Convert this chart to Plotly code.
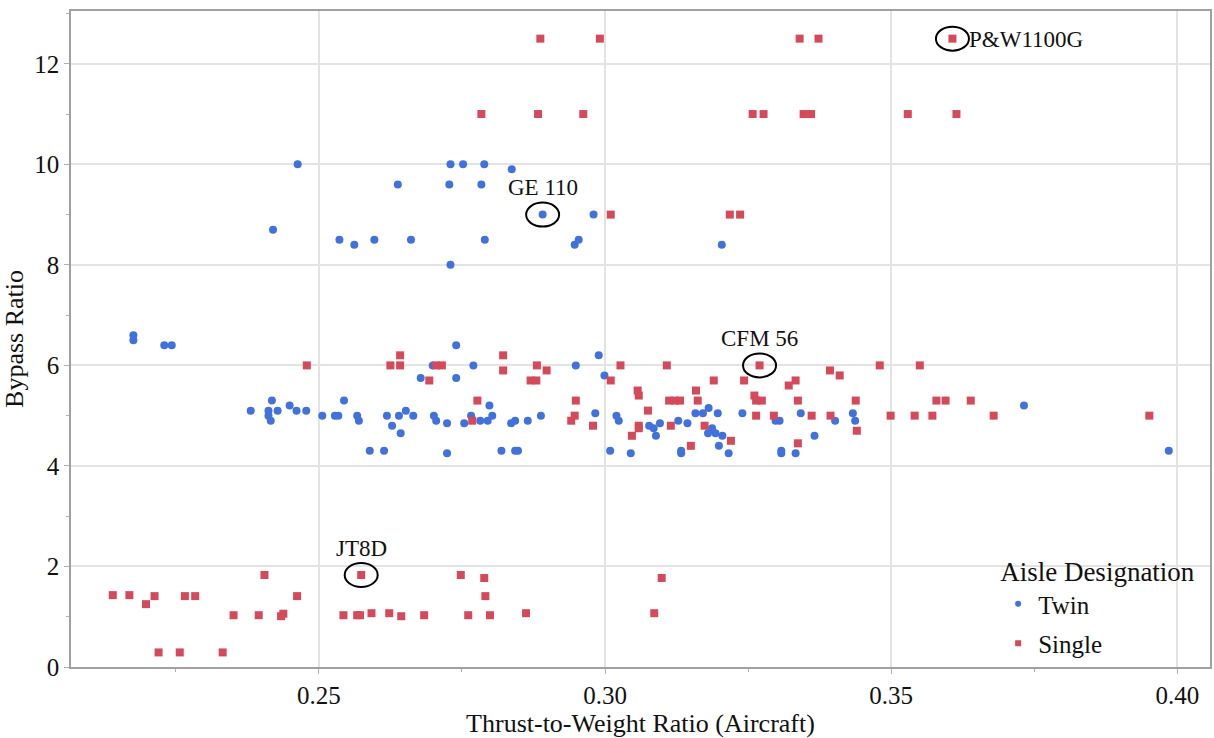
import plotly.graph_objects as go

# ---- data ----
twin_x = [0.2420, 0.2463, 0.2536, 0.2562, 0.2597, 0.2638, 0.2661, 0.2728, 0.2730,
          0.2752, 0.2789, 0.2837, 0.2784, 0.2891, 0.2980, 0.2790, 0.2947, 0.2954, 0.3204, 0.2730,
          0.2176, 0.2176, 0.2230, 0.2243, 0.2381, 0.2412, 0.2418, 0.2412, 0.2416, 0.2428,
          0.2449, 0.2461, 0.2478, 0.2506, 0.2528, 0.2534, 0.2544, 0.2567, 0.2570, 0.2589,
          0.2614, 0.2619, 0.2628, 0.2640, 0.2643, 0.2652, 0.2665, 0.2678, 0.2699, 0.2701,
          0.2705, 0.2724, 0.2724, 0.2740, 0.2740,
          0.2770, 0.2766, 0.2754, 0.2782, 0.2795, 0.2798, 0.2803, 0.2819, 0.2836, 0.2843,
          0.2843, 0.2848, 0.2865, 0.2888, 0.2949, 0.2983, 0.2989, 0.2999, 0.3009, 0.3020,
          0.3024, 0.3045, 0.3077, 0.3085, 0.3089, 0.3096, 0.3128, 0.3133, 0.3133, 0.3144,
          0.3158, 0.3171, 0.3181, 0.3197, 0.3187, 0.3180, 0.3193, 0.3205, 0.3199, 0.3216,
          0.3240, 0.3298, 0.3305, 0.3308, 0.3308, 0.3333, 0.3342, 0.3366, 0.3402,
          0.3433, 0.3437, 0.3732, 0.3985]
twin_y = [8.7, 10.0, 8.5, 8.4, 8.5, 9.6, 8.5, 9.6, 10.0,
          10.0, 10.0, 9.9, 9.6, 9.0, 9.0, 8.5, 8.4, 8.5, 8.4, 8.0,
          6.6, 6.5, 6.4, 6.4, 5.1, 5.1, 5.3, 5.0, 4.9, 5.1,
          5.2, 5.1, 5.1, 5.0, 5.0, 5.0, 5.3, 5.0, 4.9, 4.3,
          4.3, 5.0, 4.8, 5.0, 4.65, 5.1, 5.0, 5.75, 6.0, 5.0,
          4.9, 4.85, 4.25, 6.4, 5.75,
          6.0, 5.0, 4.85, 4.9, 4.9, 5.2, 5.0, 4.3, 4.85, 4.9,
          4.3, 4.3, 4.9, 5.0, 6.0, 5.05, 6.2, 5.8, 4.3, 5.0,
          4.9, 4.25, 4.8, 4.75, 4.6, 4.85, 4.9, 4.3, 4.25, 4.85,
          5.05, 5.05, 5.15, 5.05, 4.75, 4.65, 4.65, 4.6, 4.4, 4.25,
          5.05, 4.9, 4.9, 4.3, 4.25, 4.25, 5.05, 4.6, 4.9,
          5.05, 4.9, 5.2, 4.3]

single_x = [0.2887, 0.2991, 0.3340, 0.3373, 0.3607,
            0.2784, 0.2883, 0.2962, 0.3258, 0.3277, 0.3347, 0.3360, 0.3529, 0.3614,
            0.3010, 0.3218, 0.3236,
            0.2479, 0.2625, 0.2642, 0.2642, 0.2693, 0.2705, 0.2715,
            0.2777, 0.2768, 0.2822, 0.2822, 0.2881, 0.2898, 0.2870, 0.2880, 0.2949, 0.2947,
            0.2941, 0.2979, 0.3010, 0.3027, 0.3057, 0.3059, 0.3075, 0.3059, 0.3059, 0.3047,
            0.3108, 0.3112, 0.3122, 0.3131, 0.3115, 0.3159, 0.3162, 0.3150, 0.3174, 0.3190,
            0.3220, 0.3243, 0.3270, 0.3261, 0.3264, 0.3274, 0.3264, 0.3295, 0.3321, 0.3333,
            0.3337, 0.3337, 0.3361, 0.3393, 0.3394, 0.3410,
            0.3480, 0.3550, 0.3438, 0.3440, 0.3499, 0.3541, 0.3572, 0.3579, 0.3595, 0.3639,
            0.3679, 0.3951,
            0.2140, 0.2169, 0.2198, 0.2213, 0.2220, 0.2257, 0.2266, 0.2284, 0.2332, 0.2351,
            0.2395, 0.2405, 0.2434, 0.2438, 0.2462, 0.2543, 0.2567, 0.2572, 0.2574, 0.2592,
            0.2623, 0.2644, 0.2684, 0.2748, 0.2789, 0.2791, 0.2761, 0.2799, 0.2862, 0.3099,
            0.3086]
single_y = [12.5, 12.5, 12.5, 12.5, 12.5,
            11.0, 11.0, 11.0, 11.0, 11.0, 11.0, 11.0, 11.0, 11.0,
            9.0, 9.0, 9.0,
            6.0, 6.0, 6.0, 6.2, 5.7, 6.0, 6.0,
            5.3, 4.9, 6.2, 5.9, 6.0, 5.9, 5.7, 5.7, 5.3, 5.0,
            4.9, 4.8, 5.7, 6.0, 5.5, 5.4, 5.1, 4.8, 4.75, 4.6,
            6.0, 5.3, 5.3, 5.3, 4.8, 5.5, 5.3, 4.4, 4.8, 5.7,
            4.5, 5.7, 6.0, 5.4, 5.3, 5.3, 5.0, 5.0, 5.6, 5.7,
            5.3, 4.45, 5.0, 5.9, 5.0, 5.8,
            6.0, 6.0, 5.3, 4.7, 5.0, 5.0, 5.0, 5.3, 5.3, 5.3,
            5.0, 5.0,
            1.43, 1.43, 1.25, 1.41, 0.29, 0.29, 1.41, 1.41, 0.29, 1.03,
            1.03, 1.83, 1.01, 1.06, 1.41, 1.03, 1.03, 1.03, 1.83, 1.07,
            1.07, 1.01, 1.03, 1.83, 1.77, 1.41, 1.03, 1.03, 1.07, 1.77,
            1.07]

label_names = ["GE 110", "P&W1100G", "CFM 56", "JT8D"]
label_x = [0.2891, 0.3607, 0.3270, 0.2574]
label_y = [9.0, 12.5, 6.0, 1.83]

series_names = ["Twin", "Single"]
BLUE = "#4172DC"
RED = "#D44A5A"
FONT = "Liberation Serif, Times New Roman, serif"

fig = go.Figure()
fig.add_trace(go.Scatter(x=twin_x, y=twin_y, mode="markers", name=series_names[0],
                         marker=dict(color=BLUE, size=8, symbol="circle", line=dict(width=0)),
                         showlegend=False))
fig.add_trace(go.Scatter(x=single_x, y=single_y, mode="markers", name=series_names[1],
                         marker=dict(color=RED, size=8, symbol="square", line=dict(width=0)),
                         showlegend=False))
# legend entries (smaller symbols as in the reference)
fig.add_trace(go.Scatter(x=[None], y=[None], mode="markers", name=series_names[0],
                         marker=dict(color=BLUE, size=6, symbol="circle"), legendgroup="a"))
fig.add_trace(go.Scatter(x=[None], y=[None], mode="markers", name=series_names[1],
                         marker=dict(color=RED, size=6, symbol="square"), legendgroup="b"))

# ellipses + labels
for name, lx, ly in zip(label_names, label_x, label_y):
    fig.add_shape(type="circle", xref="x", yref="y", xsizemode="pixel", ysizemode="pixel",
                  xanchor=lx, yanchor=ly, x0=-16.5, x1=16.5, y0=-12, y1=12,
                  line=dict(color="black", width=2))
    if name == "P&W1100G":
        fig.add_annotation(x=lx, y=ly, text=name, showarrow=False, xanchor="left",
                           xshift=15, yshift=-1, font=dict(family=FONT, size=23, color="#111"))
    else:
        fig.add_annotation(x=lx, y=ly, text=name, showarrow=False, xanchor="center",
                           yshift=27, font=dict(family=FONT, size=23, color="#111"))

axis_common = dict(showline=True, linecolor="#a0a0a0", linewidth=1.5, mirror=True,
                   showgrid=True, gridcolor="#e3e3e3", gridwidth=1.5,
                   ticks="outside", ticklen=5, tickcolor="#b0b0b0", tickwidth=1,
                   zeroline=False,
                   tickfont=dict(family=FONT, size=25, color="#111"))

fig.update_xaxes(range=[0.2067, 0.4057], tickvals=[0.25, 0.30, 0.35, 0.40],
                 ticktext=["0.25", "0.30", "0.35", "0.40"],
                 minor=dict(ticks="outside", ticklen=3, tickcolor="#b0b0b0",
                            tickvals=[0.225, 0.275, 0.325, 0.375], showgrid=False),
                 title=dict(text="Thrust-to-Weight Ratio (Aircraft)", standoff=5,
                            font=dict(family=FONT, size=26, color="#111")),
                 **axis_common)
fig.update_yaxes(range=[0, 13.05], tickvals=[0, 2, 4, 6, 8, 10, 12],
                 minor=dict(ticks="outside", ticklen=3, tickcolor="#b0b0b0",
                            tickvals=[1, 3, 5, 7, 9, 11, 13], showgrid=False),
                 title=dict(text="Bypass Ratio", standoff=8,
                            font=dict(family=FONT, size=26, color="#111")),
                 **axis_common)

fig.update_layout(
    width=1214, height=738,
    margin=dict(l=71, r=2, t=11, b=71),
    plot_bgcolor="white", paper_bgcolor="white",
    font=dict(family=FONT, color="#111"),
    legend=dict(title=dict(text="Aisle Designation", font=dict(family=FONT, size=27)),
                font=dict(family=FONT, size=25),
                x=0.814, xanchor="left", y=0.0, yanchor="bottom",
                bgcolor="rgba(0,0,0,0)", tracegroupgap=4),
)

fig.write_html("out.html")
